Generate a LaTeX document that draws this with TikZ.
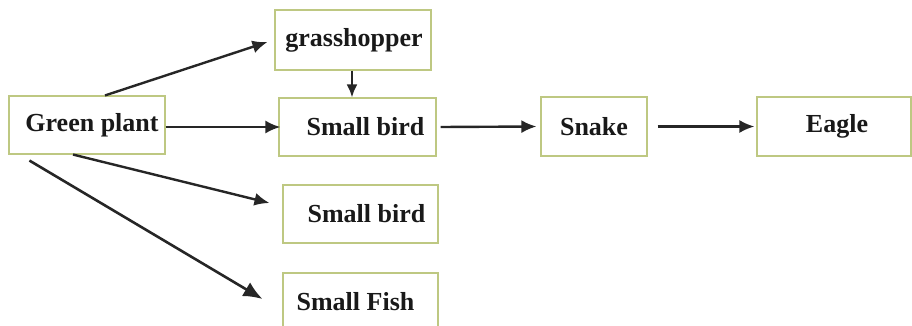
\documentclass[tikz,border=0pt]{standalone}
\usepackage{fontspec}
\setmainfont{Liberation Serif}
\usetikzlibrary{arrows.meta}
\definecolor{boxline}{RGB}{190,200,130}
\tikzset{
  box/.style={draw=boxline, line width=1.1pt, inner sep=0pt, fill=white,
    font=\fontsize{26}{29}\selectfont\bfseries, text=black!90},
  arr/.style={draw=black!85, line width=2.4pt, -{Latex[length=15pt,width=13pt]}},
  bigarr/.style={draw=black!85, line width=2.6pt, -{Latex[length=19pt,width=16pt]}}
}
\begin{document}
\begin{tikzpicture}[x=1pt,y=1pt]
\useasboundingbox (0,0) rectangle (912,325);
\node[box, minimum width=156pt, minimum height=58pt] (gp) at (87,200) {\hspace*{10pt}Green plant};
\node[box, minimum width=156pt, minimum height=60pt] (gh) at (353,285) {\hspace*{2pt}grasshopper};
\node[box, minimum width=157pt, minimum height=58pt] (sb1) at (357.5,198) {\hspace*{16pt}Small bird};
\node[box, minimum width=155pt, minimum height=58pt] (sb2) at (360.5,111) {\hspace*{12pt}Small bird};
\node[box, minimum width=155pt, minimum height=58pt] (sf) at (360.5,23) {\hspace*{-10pt}Small Fish};
\node[box, minimum width=106pt, minimum height=59pt] (sn) at (594,198.5) {Snake};
\node[box, minimum width=154pt, minimum height=59pt] (eg) at (834,198.5) {\hspace*{6pt}Eagle};
\draw[arr] ([xshift=18pt]gp.north) -- ([xshift=-7pt,yshift=-2pt]gh.west);
\draw[arr] ([yshift=-2pt]gp.east) -- ([yshift=-2pt,xshift=2pt]gp.east -| sb1.west);
\draw[arr] ([xshift=-14pt]gp.south) -- ([xshift=-13pt,yshift=11pt]sb2.west);
\draw[bigarr] ([xshift=21pt,yshift=-6pt]gp.south west) -- ([xshift=-20pt,yshift=3pt]sf.west);
\draw[arr, -{Latex[length=13pt,width=11pt]}] ([xshift=-1pt]gh.south) -- ([xshift=-1pt]gh.south |- sb1.north);
\draw[arr] ([xshift=4pt]sb1.east) -- ([xshift=-4pt]sn.west);
\draw[arr] ([xshift=10pt]sn.east) -- ([xshift=-2pt]eg.west);
\end{tikzpicture}
\end{document}
